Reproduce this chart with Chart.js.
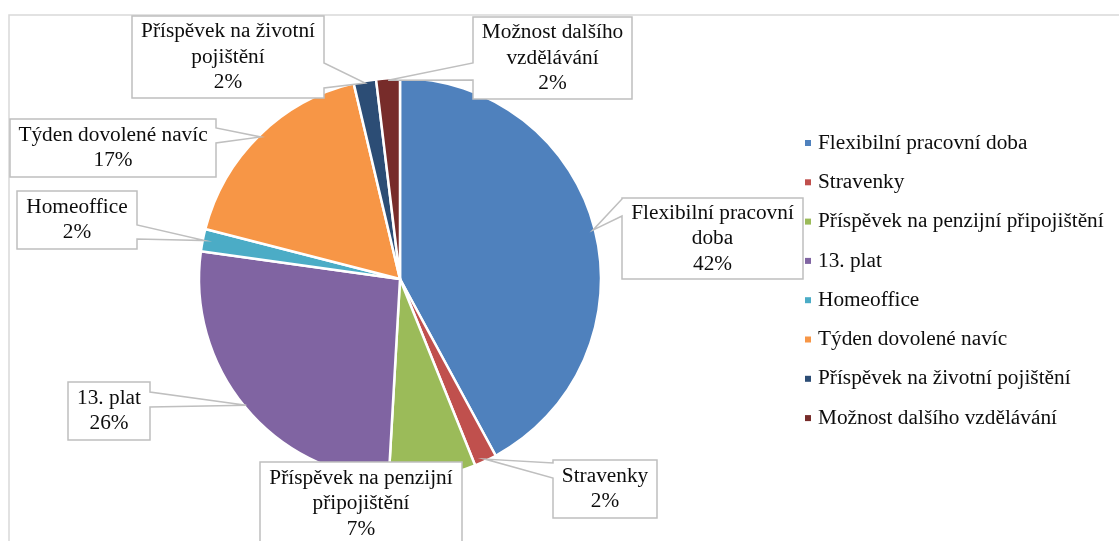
<!DOCTYPE html>
<html>
<head>
<meta charset="utf-8">
<script src="https://cdn.jsdelivr.net/npm/chart.js@4"></script>
<style>
  html, body { margin: 0; padding: 0; background: #fff; }
  #wrap { width: 1119px; height: 541px; position: relative; }
</style>
</head>
<body>
<div id="wrap"><canvas id="chart"></canvas></div>
<script>
const categories = [
  'Flexibilní pracovní doba',
  'Stravenky',
  'Příspěvek na penzijní připojištění',
  '13. plat',
  'Homeoffice',
  'Týden dovolené navíc',
  'Příspěvek na životní pojištění',
  'Možnost dalšího vzdělávání'
];
// share of answers, in percent
const shares = [42.1, 1.8, 7.0, 26.3, 1.8, 17.3, 1.8, 1.9];
const colors = ['#4F81BD', '#C0504D', '#9BBB59', '#8064A2', '#4BACC6', '#F79646', '#2C4D75', '#772C2A'];
// how each data label wraps inside its box
const labelLines = [
  ['Flexibilní pracovní', 'doba'],
  ['Stravenky'],
  ['Příspěvek na penzijní', 'připojištění'],
  ['13. plat'],
  ['Homeoffice'],
  ['Týden dovolené navíc'],
  ['Příspěvek na životní', 'pojištění'],
  ['Možnost dalšího', 'vzdělávání']
];
// callout boxes: x, y, w, h, side of the wedge, wedge base from/to
const calloutBoxes = [
  [622, 198, 181, 81, 'left', 199, 216],
  [553, 460, 104, 58, 'left', 463, 478],
  [260, 462, 202, 92, 'none', 0, 0],
  [68, 382, 82, 58, 'right', 392, 407],
  [17, 191, 120, 58, 'right', 225, 239],
  [10, 119, 206, 58, 'right', 128, 143],
  [132, 16, 192, 82, 'right', 63, 88],
  [473, 17, 159, 82, 'left', 63, 80]
];

const FONT = '21.3px "Liberation Serif", "Times New Roman", serif';

const framePlugin = {
  id: 'frame',
  beforeDraw(chart) {
    const ctx = chart.ctx;
    ctx.save();
    ctx.fillStyle = '#fff';
    ctx.fillRect(0, 0, chart.width, chart.height);
    ctx.strokeStyle = '#d9d9d9';
    ctx.lineWidth = 1.5;
    ctx.strokeRect(9, 15, chart.width + 20, chart.height + 20);
    ctx.restore();
  }
};

function calloutPath(ctx, box, tip) {
  const [x, y, w, h, side, b1, b2] = box;
  ctx.beginPath();
  ctx.moveTo(x, y);
  ctx.lineTo(x + w, y);
  if (side === 'right') {
    ctx.lineTo(x + w, b1);
    ctx.lineTo(tip.x, tip.y);
    ctx.lineTo(x + w, b2);
  }
  ctx.lineTo(x + w, y + h);
  ctx.lineTo(x, y + h);
  if (side === 'left') {
    ctx.lineTo(x, b2);
    ctx.lineTo(tip.x, tip.y);
    ctx.lineTo(x, b1);
  }
  ctx.closePath();
}

const calloutPlugin = {
  id: 'callouts',
  afterDatasetsDraw(chart) {
    const ctx = chart.ctx;
    const meta = chart.getDatasetMeta(0);
    const total = shares.reduce((a, b) => a + b, 0);
    ctx.save();
    meta.data.forEach((arc, i) => {
      const p = arc.getProps(['x', 'y', 'startAngle', 'endAngle', 'outerRadius'], true);
      const mid = (p.startAngle + p.endAngle) / 2;
      const tip = {
        x: p.x + Math.cos(mid) * (p.outerRadius - 2),
        y: p.y + Math.sin(mid) * (p.outerRadius - 2)
      };
      const box = calloutBoxes[i];
      calloutPath(ctx, box, tip);
      ctx.fillStyle = '#fff';
      ctx.fill();
      ctx.strokeStyle = '#bfbfbf';
      ctx.lineWidth = 1.5;
      ctx.stroke();

      const lines = labelLines[i].concat([Math.round(shares[i] / total * 100) + '%']);
      const lh = 25.5;
      let cy = box[1] + box[3] / 2 - (lines.length - 1) * lh / 2;
      if (i === 2) cy = box[1] + 16;
      ctx.fillStyle = '#0d0d0d';
      ctx.font = FONT;
      ctx.textAlign = 'center';
      ctx.textBaseline = 'middle';
      lines.forEach((t, k) => ctx.fillText(t, box[0] + box[2] / 2, cy + k * lh));
    });
    ctx.restore();
  }
};

const legendPlugin = {
  id: 'sideLegend',
  afterDraw(chart) {
    const ctx = chart.ctx;
    ctx.save();
    ctx.font = FONT;
    ctx.textAlign = 'left';
    ctx.textBaseline = 'middle';
    categories.forEach((c, i) => {
      const y = 143 + i * 39.3;
      ctx.fillStyle = colors[i];
      ctx.fillRect(805, y - 3, 6, 6);
      ctx.fillStyle = '#0d0d0d';
      ctx.fillText(c, 818, y);
    });
    ctx.restore();
  }
};

new Chart(document.getElementById('chart'), {
  type: 'pie',
  data: {
    labels: categories,
    datasets: [{
      data: shares,
      backgroundColor: colors,
      borderColor: '#fff',
      borderWidth: 2.5
    }]
  },
  options: {
    responsive: true,
    maintainAspectRatio: false,
    animation: false,
    radius: 201,
    layout: { padding: { left: 199, right: 518, top: 78, bottom: 61 } },
    plugins: {
      legend: { display: false },
      tooltip: { enabled: false }
    }
  },
  plugins: [framePlugin, calloutPlugin, legendPlugin]
});
</script>
</body>
</html>
